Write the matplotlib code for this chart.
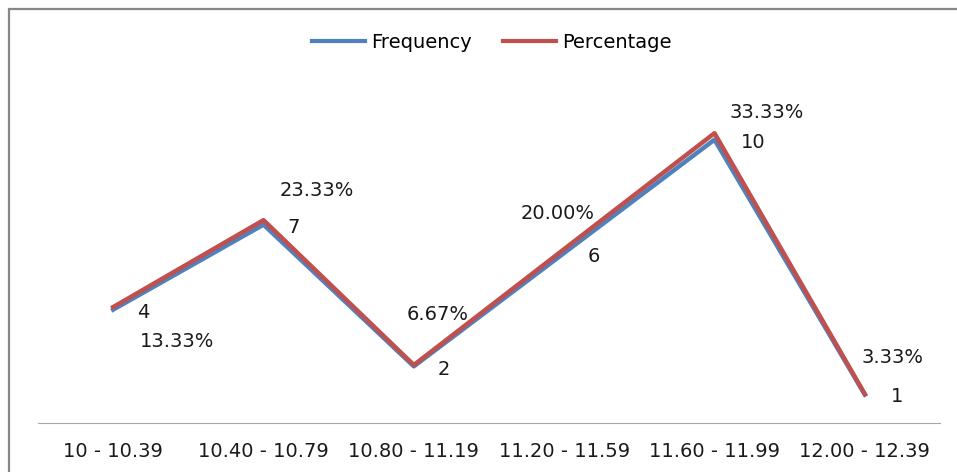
import matplotlib.pyplot as plt
from matplotlib.patches import Rectangle

# datos del grafico
categorias = ["10 - 10.39", "10.40 - 10.79", "10.80 - 11.19",
              "11.20 - 11.59", "11.60 - 11.99", "12.00 - 12.39"]
frecuencia = [4, 7, 2, 6, 10, 1]
porcentaje = [13.33, 23.33, 6.67, 20.00, 33.33, 3.33]

# desplazamiento de las etiquetas (pixeles)
off_frec = [(30, -3), (30, -3), (30, -3), (30, -3), (39, -3), (32, -2)]
off_pct = [(64, -34), (53, 30), (24, 51), (-7, 36), (52, 21), (28, 37)]

plt.rcParams["font.family"] = ["DejaVu Sans"]
fs = 14

fig = plt.figure(figsize=(9.57, 4.72), dpi=100)
fig.patches.append(Rectangle((9 / 957, -0.1), 1.1, 1 - 9 / 472 + 0.1,
                             transform=fig.transFigure, fill=False,
                             edgecolor="#878787", linewidth=1.6))

ax = fig.add_axes([38 / 957, 49 / 472, 902 / 957, 340 / 472])
ax2 = ax.twinx()
x = range(len(categorias))

ax.plot(x, frecuencia, color="#4F81BD", linewidth=3.2, label="Frequency")
ax2.plot(x, porcentaje, color="#C0504D", linewidth=3.2, label="Percentage")
ax.set_xlim(-0.5, len(categorias) - 0.5)
ax.set_ylim(0, 12)
ax2.set_ylim(0, 39.1)

for a in (ax, ax2):
    for s in ["left", "right", "top"]:
        a.spines[s].set_visible(False)
    a.spines["bottom"].set_color("#A6A6A6")
    a.set_yticks([])
ax2.spines["bottom"].set_visible(False)

ax.set_xticks(list(x))
ax.set_xticklabels(categorias, fontsize=fs, color="#1a1a1a")
ax.tick_params(axis="x", length=0, pad=14)

for i, v in enumerate(frecuencia):
    ax.annotate(str(v), (i, v), xytext=off_frec[i], textcoords="offset pixels",
                ha="center", va="center", fontsize=fs, color="#1a1a1a")
for i, v in enumerate(porcentaje):
    ax2.annotate("%.2f%%" % v, (i, v), xytext=off_pct[i], textcoords="offset pixels",
                 ha="center", va="center", fontsize=fs, color="#1a1a1a")

h1, l1 = ax.get_legend_handles_labels()
h2, l2 = ax2.get_legend_handles_labels()
leg = fig.legend(h1 + h2, l1 + l2, loc="center", bbox_to_anchor=(492 / 957, 1 - 42 / 472),
                 ncol=2, frameon=False, fontsize=fs, handlelength=2.7,
                 handletextpad=0.35, columnspacing=1.6)
for ln in leg.get_lines():
    ln.set_linewidth(3)

fig.savefig("out.png", dpi=100)
